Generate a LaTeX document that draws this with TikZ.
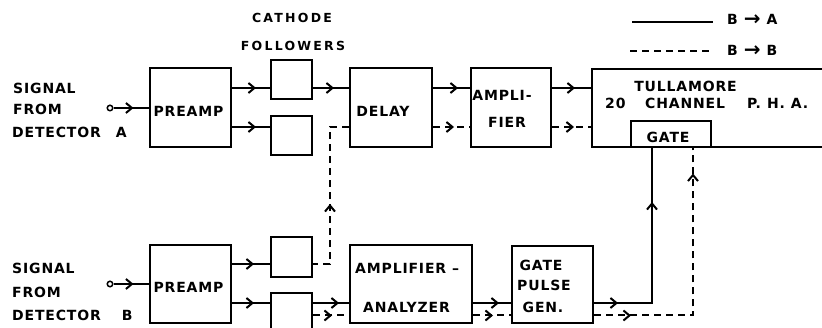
\documentclass[tikz,border=0pt]{standalone}
\usepackage{fontspec}
\setmainfont{DejaVu Sans}
\newfontfamily\lblfont{DejaVu Sans}[LetterSpace=6]
\newfontfamily\widefont{DejaVu Sans}[LetterSpace=18]
\usetikzlibrary{arrows.meta,decorations.markings}
\tikzset{
  box/.style={draw, line width=2pt, inner sep=0pt},
  conn/.style={line width=2pt},
  dconn/.style={line width=2pt, dash pattern=on 7pt off 5pt},
  lbl/.style={font={\lblfont\bfseries\fontsize{14}{16}\selectfont}, inner sep=0pt},
  smlbl/.style={font={\widefont\bfseries\fontsize{12.5}{14}\selectfont}, inner sep=0pt},
  tip/.tip={Straight Barb[length=6pt,width=10pt]},
  marr/.style={postaction={decorate,decoration={markings,mark=at position #1 with {\arrow{tip}}}}},
  marrtwo/.style 2 args={postaction={decorate,decoration={markings,
     mark=at position #1 with {\arrow{tip}},
     mark=at position #2 with {\arrow{tip}}}}},
  term/.style={circle, draw, line width=1.5pt, minimum size=5.5pt, inner sep=0pt},
}
\newcommand{\legarrow}{\raisebox{-1pt}{\fontsize{20}{20}\selectfont →}}
\begin{document}
\begin{tikzpicture}[x=1pt,y=-1pt]
\useasboundingbox (0,0) rectangle (822,328);

% boxes
\node[box, minimum width=81pt, minimum height=79pt] (preA) at (190.5,107.5) {};
\node[box, minimum width=41pt, minimum height=39pt] (cfA1) at (291.5,79.5) {};
\node[box, minimum width=41pt, minimum height=39pt] (cfA2) at (291.5,135.5) {};
\node[box, minimum width=82pt, minimum height=79pt] (delay) at (391,107.5) {};
\node[box, minimum width=80pt, minimum height=79pt] (amp) at (511,107.5) {};
\node[box, minimum width=260pt, minimum height=78pt] (pha) at (722,108) {};
\node[box, minimum width=80pt, minimum height=26pt] (gate) at (671,134) {};
\node[box, minimum width=81pt, minimum height=78pt] (preB) at (190.5,284) {};
\node[box, minimum width=41pt, minimum height=40pt] (cfB1) at (291.5,257) {};
\node[box, minimum width=41pt, minimum height=47pt] (cfB2) at (291.5,316.5) {};
\node[box, minimum width=122pt, minimum height=78pt] (aa) at (411,284) {};
\node[box, minimum width=81pt, minimum height=77pt] (gpg) at (552.5,284.5) {};

% input terminals
\node[term] (inA) at (110,108) {};
\node[term] (inB) at (110,284) {};

% levels
\coordinate (yA1) at (0,88);
\coordinate (yA2) at (0,127);
\coordinate (yB1) at (0,264);
\coordinate (yB2) at (0,303);
\coordinate (yB3) at (0,315.5);
\coordinate (xD) at (330,0);
\coordinate (xS) at (652,0);
\coordinate (xT) at (693,0);

% texts
\node[lbl, anchor=west] (sA1) at (13,88) {SIGNAL};
\node[lbl, anchor=west] (sA2) at (13,109) {FROM};
\node[lbl, anchor=west] (sA3) at (12,132) {DETECTOR\hspace{15pt}A};
\node[lbl, anchor=west] (sB1) at (12,268) {SIGNAL};
\node[lbl, anchor=west] (sB2) at (12,292) {FROM};
\node[lbl, anchor=west] (sB3) at (12,315.5) {DETECTOR\hspace{21pt}B};
\node[smlbl] (cath) at (292,18) {CATHODE};
\node[smlbl] (foll) at (293,46) {FOLLOWERS};
\node[lbl] (tpreA) at (188.5,111) {PREAMP};
\node[lbl] (tpreB) at (188.5,287) {PREAMP};
\node[lbl] (tdel) at (383,111) {DELAY};
\node[lbl] (tamp1) at (502,95) {AMPLI-};
\node[lbl] (tamp2) at (507,122) {FIER};
\node[lbl] (tpha1) at (685.5,86) {TULLAMORE};
\node[lbl, anchor=west] (tpha2) at (605,103) {20};
\node[lbl, anchor=west] (tpha3) at (645,103) {CHANNEL};
\node[lbl, anchor=west] (tpha4) at (747,103) {P.\hspace{6pt}H.\hspace{6pt}A.};
\node[lbl] (tgate) at (668,137) {GATE};
\node[lbl, anchor=west] (taa1) at (355,268) {AMPLIFIER\hspace{6pt}–};
\node[lbl] (taa2) at (406.5,307) {ANALYZER};
\node[lbl] (tg1) at (541,265) {GATE};
\node[lbl] (tg2) at (544,285) {PULSE};
\node[lbl] (tg3) at (543,307.5) {GEN.};
\node[lbl, anchor=west] (legA) at (727,20) {B\hspace{6pt}\legarrow\hspace{6pt}A};
\node[lbl, anchor=west] (legB) at (727,51) {B\hspace{6pt}\legarrow\hspace{6pt}B};

% legend lines
\coordinate (l1a) at (632,22);
\coordinate (l1b) at (713,22);
\coordinate (l2a) at (630,51);
\coordinate (l2b) at (713,51);
\draw[conn] (l1a) -- (l1b);
\draw[dconn] (l2a) -- (l2b);

% connectors, detector A
\draw[conn, marr=20pt] (inA.east) -- (inA -| preA.west);
\draw[conn, marr=24pt] (preA.east |- yA1) -- (cfA1.west |- yA1);
\draw[conn, marr=24pt] (preA.east |- yA2) -- (cfA2.west |- yA2);
\draw[conn, marr=21pt] (cfA1.east |- yA1) -- (delay.west |- yA1);
\draw[conn, marr=25pt] (delay.east |- yA1) -- (amp.west |- yA1);
\draw[dconn, marr=21pt] (delay.east |- yA2) -- (amp.west |- yA2);
\draw[conn, marr=23pt] (amp.east |- yA1) -- (pha.west |- yA1);
\draw[dconn, marr=22pt] (amp.east |- yA2) -- (pha.west |- yA2);

% connectors, detector B
\draw[conn, marr=20pt] (inB.east) -- (inB -| preB.west);
\draw[conn, marr=22pt] (preB.east |- yB1) -- (cfB1.west |- yB1);
\draw[conn, marr=22pt] (preB.east |- yB2) -- (cfB2.west |- yB2);
\draw[dconn, dash phase=2pt, marr=77pt] (cfB1.east |- yB1) -- (xD |- yB1) -- (xD |- yA2) -- (delay.west |- yA2);
\draw[conn, marr=26pt] (cfB2.east |- yB2) -- (aa.west |- yB2);
\draw[dconn, marr=19pt] (cfB2.east |- yB3) -- (aa.west |- yB3);
\draw[conn, marr=26pt] (aa.east |- yB2) -- (gpg.west |- yB2);
\draw[dconn, marr=20pt] (aa.east |- yB3) -- (gpg.west |- yB3);
\draw[conn, marrtwo={24pt}{159pt}] (gpg.east |- yB2) -- (xS |- yB2) -- (xS |- gate.south);
\draw[dconn, marrtwo={37pt}{241pt}] (gpg.east |- yB3) -- (xT |- yB3) -- (xT |- gate.south);
\end{tikzpicture}
\end{document}
